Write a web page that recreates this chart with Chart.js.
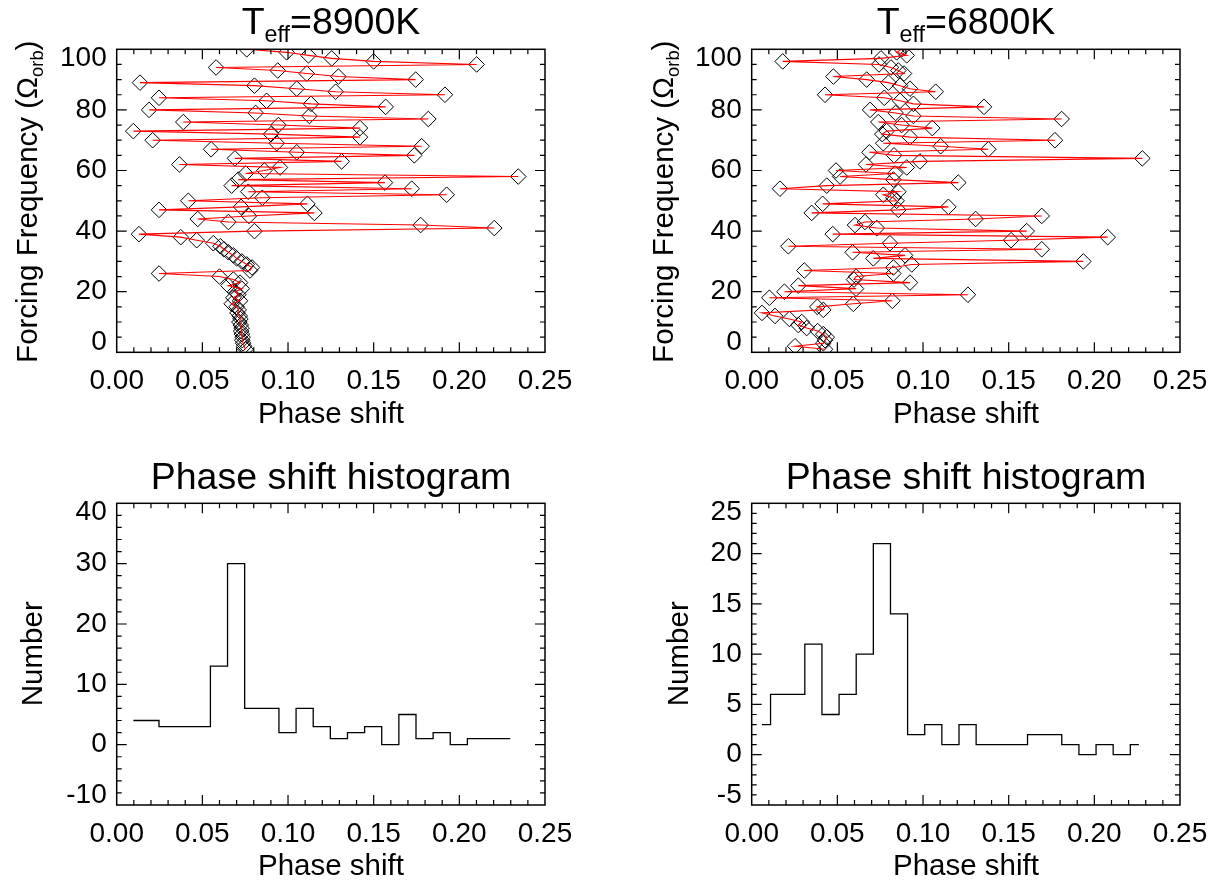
<!DOCTYPE html>
<html lang="en">

<head>
    <meta charset="UTF-8">
    <title>Phase shift</title>
    <script src="https://cdn.jsdelivr.net/npm/chart.js"></script>
    <style>
        body {
            margin: 0;
            background: #fff;
        }

        #page {
            position: relative;
            width: 1229px;
            height: 884px;
            overflow: hidden;
            font-family: 'Liberation Sans', Arial, Helvetica, sans-serif;
            color: #000;
        }

        canvas {
            position: absolute;
        }

        .txt {
            position: absolute;
            white-space: nowrap;
            text-align: center;
            line-height: 1;
        }

        .title {
            font-size: 37.5px;
            width: 600px;
        }

        .axt {
            font-size: 29.5px;
            width: 600px;
        }

        .rot {
            font-size: 29.5px;
            width: 500px;
            height: 29.5px;
            transform: rotate(-90deg);
        }

        .sub {
            font-size: 0.62em;
            position: relative;
            top: 0.34em;
        }
    </style>
</head>

<body>
    <div id="page">
        <canvas id="hotFreq" width="614" height="442" style="left:0;top:0"></canvas>
        <canvas id="coolFreq" width="615" height="442" style="left:614px;top:0"></canvas>
        <canvas id="hotHist" width="614" height="442" style="left:0;top:442px"></canvas>
        <canvas id="coolHist" width="615" height="442" style="left:614px;top:442px"></canvas>

        <div class="txt title" style="left:31px;top:3.3px">T<span class="sub">eff</span>=8900K</div>
        <div class="txt title" style="left:666px;top:3.3px">T<span class="sub">eff</span>=6800K</div>
        <div class="txt title" style="left:31px;top:458.3px">Phase shift histogram</div>
        <div class="txt title" style="left:666px;top:458.3px">Phase shift histogram</div>

        <div class="txt axt" style="left:31px;top:398px">Phase shift</div>
        <div class="txt axt" style="left:666px;top:398px">Phase shift</div>
        <div class="txt axt" style="left:31px;top:850px">Phase shift</div>
        <div class="txt axt" style="left:666px;top:850px">Phase shift</div>

        <div class="txt rot" style="left:-222.7px;top:187.3px">Forcing Frequency (&Omega;<span class="sub">orb</span>)</div>
        <div class="txt rot" style="left:412.5px;top:187.3px">Forcing Frequency (&Omega;<span class="sub">orb</span>)</div>
        <div class="txt rot" style="left:-218.2px;top:639.3px">Number</div>
        <div class="txt rot" style="left:427.8px;top:639.3px">Number</div>
    </div>

    <script>
        // forcing frequency of each mode, in units of the orbital frequency
        const freq = [1, 2, 3, 4, 5, 6, 7, 8, 9, 10, 11, 12, 13, 14, 15, 16, 17, 18, 19, 20,
            21, 22, 23, 24, 25, 26, 27, 28, 29, 30, 31, 32, 33, 34, 35, 36, 37, 38, 39, 40,
            41, 42, 43, 44, 45, 46, 47, 48, 49, 50, 51, 52, 53, 54, 55, 56, 57, 58, 59, 60,
            61, 62, 63, 64, 65, 66, 67, 68, 69, 70, 71, 72, 73, 74, 75, 76, 77, 78, 79, 80,
            81, 82, 83, 84, 85, 86, 87, 88, 89, 90, 91, 92, 93, 94, 95, 96, 97, 98, 99, 100];

        // phase shift per forcing frequency, Teff = 8900K
        const phaseHot = [0.0752, 0.0744, 0.0738, 0.0733, 0.0735, 0.0731, 0.0726, 0.0729, 0.0724, 0.0716,
            0.0722, 0.0718, 0.0705, 0.0712, 0.0700, 0.0671, 0.0720, 0.0681, 0.0710, 0.0691,
            0.0730, 0.0652, 0.0720, 0.0681, 0.0600, 0.0247, 0.0778, 0.0790, 0.0759, 0.0730,
            0.0700, 0.0681, 0.0652, 0.0626, 0.0605, 0.0564, 0.0467, 0.0374, 0.0130, 0.0804,
            0.2204, 0.1774, 0.0652, 0.0473, 0.0772, 0.1154, 0.0247, 0.0726, 0.1113, 0.0418,
            0.0850, 0.1926, 0.0768, 0.1722, 0.0671, 0.1566, 0.0710, 0.2344, 0.0753, 0.0862,
            0.0953, 0.0366, 0.1313, 0.0690, 0.1737, 0.1051, 0.0551, 0.1780, 0.0934, 0.0210,
            0.1420, 0.0901, 0.0097, 0.1420, 0.0944, 0.0389, 0.1819, 0.1125, 0.0811, 0.0189,
            0.1570, 0.1134, 0.0875, 0.0247, 0.1916, 0.1278, 0.1051, 0.0804, 0.0136, 0.1745,
            0.1294, 0.1109, 0.0940, 0.0580, 0.2101, 0.1500, 0.1255, 0.1119, 0.0992, 0.0759];

        // phase shift per forcing frequency, Teff = 6800K
        const phaseCool = [0.0428, 0.0253, 0.0418, 0.0428, 0.0438, 0.0418, 0.0385, 0.0321, 0.0272, 0.0292,
            0.0220, 0.0136, 0.0060, 0.0418, 0.0383, 0.0593, 0.0821, 0.0103, 0.1262, 0.0191,
            0.0609, 0.0272, 0.0924, 0.0597, 0.0609, 0.0827, 0.0307, 0.0827, 0.0934, 0.1936,
            0.0710, 0.0895, 0.0589, 0.1693, 0.0214, 0.0807, 0.1514, 0.2078, 0.0473, 0.1605,
            0.0730, 0.0603, 0.0661, 0.1307, 0.1693, 0.0350, 0.0856, 0.1148, 0.0414, 0.0846,
            0.0827, 0.0768, 0.0856, 0.0165, 0.0438, 0.1206, 0.0827, 0.0516, 0.0837, 0.0492,
            0.0905, 0.0667, 0.0982, 0.2280, 0.0831, 0.0687, 0.1381, 0.1103, 0.0768, 0.1770,
            0.0924, 0.0762, 0.0788, 0.1054, 0.0875, 0.0739, 0.1809, 0.0944, 0.0840, 0.0691,
            0.1356, 0.0944, 0.0866, 0.0774, 0.0428, 0.1074, 0.0924, 0.0866, 0.0798, 0.0671,
            0.0477, 0.0889, 0.0856, 0.0813, 0.0743, 0.0181, 0.0755, 0.0905, 0.0846, 0.0875];

        // histogram bin locations and counts
        const binHot = [0.0097, 0.0197, 0.0297, 0.0397, 0.0497, 0.0597, 0.0697, 0.0797, 0.0897, 0.0997,
            0.1097, 0.1197, 0.1297, 0.1397, 0.1497, 0.1597, 0.1697, 0.1797, 0.1897, 0.1997,
            0.2097, 0.2197, 0.2297];
        const countHot = [4, 4, 3, 3, 3, 13, 30, 6, 6, 2, 6, 3, 1, 2, 3, 0, 5, 1, 2, 0, 1, 1, 1];
        const binCool = [0.0060, 0.0160, 0.0260, 0.0360, 0.0460, 0.0560, 0.0660, 0.0760, 0.0860, 0.0960,
            0.1060, 0.1160, 0.1260, 0.1360, 0.1460, 0.1560, 0.1660, 0.1760, 0.1860, 0.1960,
            0.2060, 0.2160, 0.2260];
        const countCool = [3, 6, 6, 11, 4, 6, 10, 21, 14, 2, 3, 1, 3, 1, 1, 1, 2, 2, 1, 0, 1, 0, 1];

        // tick labels
        const phaseTicks = [0, 0.05, 0.1, 0.15, 0.2, 0.25];
        const freqTicks = [0, 20, 40, 60, 80, 100];
        const countTicksHot = [-10, 0, 10, 20, 30, 40];
        const countTicksCool = [-5, 0, 5, 10, 15, 20, 25];

        const FONT = "'Liberation Sans', Arial, Helvetica, sans-serif";

        // box round the plot with inward major and minor ticks on all four sides
        const frameTicks = {
            id: 'frameTicks',
            beforeDraw(chart) {
                // the end labels of the y axis sit a bit inside the box, like the original
                const items = chart.scales.y.getLabelItems();
                if (items._nudged || items.length < 2) return;
                items._nudged = true;
                items[0].options.translation[1] -= 10;
                items[items.length - 1].options.translation[1] += 9;
            },
            afterDraw(chart, args, o) {
                const { ctx, chartArea: a, scales: { x, y } } = chart;
                ctx.save();
                ctx.strokeStyle = '#000';
                ctx.lineWidth = 1.2;
                ctx.beginPath();
                const mark = (scale, minor, major, horiz) => {
                    const n = Math.round((scale.max - scale.min) / minor);
                    for (let i = 1; i < n; i++) {
                        const v = scale.min + i * minor;
                        const q = v / major;
                        const len = Math.abs(q - Math.round(q)) < 1e-6 ? 10 : 5;
                        const p = scale.getPixelForValue(v);
                        if (horiz) {
                            ctx.moveTo(p, a.bottom); ctx.lineTo(p, a.bottom - len);
                            ctx.moveTo(p, a.top); ctx.lineTo(p, a.top + len);
                        } else {
                            ctx.moveTo(a.left, p); ctx.lineTo(a.left + len, p);
                            ctx.moveTo(a.right, p); ctx.lineTo(a.right - len, p);
                        }
                    }
                };
                mark(x, o.xMinor, o.xMajor, true);
                mark(y, o.yMinor, o.yMajor, false);
                ctx.stroke();
                ctx.lineWidth = 1.5;
                ctx.strokeRect(a.left, a.top, a.right - a.left, a.bottom - a.top);
                ctx.restore();
            }
        };

        function scales(yMin, yMax, yTicks, yWidth, xHeight) {
            const font = { family: FONT, size: 28 };
            return {
                x: {
                    type: 'linear', min: 0, max: 0.25,
                    grid: { display: false, drawTicks: false },
                    border: { display: false },
                    ticks: { font, color: '#000', padding: 12, maxRotation: 0, autoSkip: false, callback: v => v.toFixed(2) },
                    afterBuildTicks: s => { s.ticks = phaseTicks.map(v => ({ value: v })); },
                    afterFit: s => { s.height = xHeight; }
                },
                y: {
                    type: 'linear', min: yMin, max: yMax,
                    grid: { display: false, drawTicks: false },
                    border: { display: false },
                    ticks: { font, color: '#000', padding: 10, autoSkip: false, callback: v => String(v) },
                    afterBuildTicks: s => { s.ticks = yTicks.map(v => ({ value: v })); },
                    afterFit: s => { s.width = yWidth; }
                }
            };
        }

        function baseOptions(padding, sc, ticks) {
            return {
                responsive: false,
                animation: false,
                events: [],
                layout: { padding },
                plugins: { legend: { display: false }, tooltip: { enabled: false }, frameTicks: ticks },
                scales: sc
            };
        }

        function freqChart(id, phase, padRight, yWidth) {
            const pts = freq.map((f, i) => ({ x: phase[i], y: f }));
            new Chart(document.getElementById(id), {
                type: 'scatter',
                data: {
                    datasets: [{
                        data: pts,
                        showLine: true,
                        borderColor: '#ff0000',
                        borderWidth: 1.1,
                        pointRadius: 0,
                        order: 1,
                        clip: 0
                    }, {
                        data: pts,
                        showLine: false,
                        pointStyle: 'rectRot',
                        pointRadius: 7.8,
                        pointBorderColor: '#000',
                        pointBorderWidth: 1,
                        pointBackgroundColor: 'rgba(0,0,0,0)',
                        order: 2,
                        clip: 0
                    }]
                },
                options: baseOptions({ left: 0, top: 49.3, right: padRight, bottom: 0 },
                    scales(0, 100, freqTicks, yWidth, 89.7),
                    { xMinor: 0.01, xMajor: 0.05, yMinor: 5, yMajor: 20 }),
                plugins: [frameTicks]
            });
        }

        function histChart(id, bins, counts, yMin, yMax, yTicks, yMinor, yMajor, padRight, yWidth) {
            new Chart(document.getElementById(id), {
                type: 'scatter',
                data: {
                    datasets: [{
                        data: bins.map((b, i) => ({ x: b, y: counts[i] })),
                        showLine: true,
                        stepped: 'middle',
                        borderColor: '#000',
                        borderWidth: 1.3,
                        pointRadius: 0,
                        clip: 0
                    }]
                },
                options: baseOptions({ left: 0, top: 61.3, right: padRight, bottom: 0 },
                    scales(yMin, yMax, yTicks, yWidth, 79),
                    { xMinor: 0.01, xMajor: 0.05, yMinor, yMajor }),
                plugins: [frameTicks]
            });
        }

        freqChart('hotFreq', phaseHot, 69, 116.7);
        freqChart('coolFreq', phaseCool, 49, 137.7);
        histChart('hotHist', binHot, countHot, -10, 40, countTicksHot, 2, 10, 69, 116.7);
        histChart('coolHist', binCool, countCool, -5, 25, countTicksCool, 1, 5, 49, 137.7);
    </script>
</body>

</html>
